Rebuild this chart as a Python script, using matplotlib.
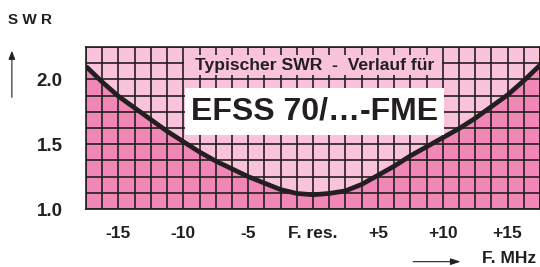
import numpy as np
import matplotlib
matplotlib.use("Agg")
import matplotlib.pyplot as plt
from matplotlib.patches import Rectangle, FancyArrowPatch

# readings from the chart: detuning in MHz vs SWR
freq = [-17.5, -16.25, -15, -13.75, -12.5, -11.25, -10, -8.75, -7.5, -6.25, -5,
        -3.75, -2.5, -1.25, 0, 1.25, 2.5, 3.75, 5, 6.25, 7.5, 8.75, 10,
        11.25, 12.5, 13.75, 15, 16.25, 17.5]
swr = [2.10, 1.98, 1.87, 1.78, 1.69, 1.60, 1.52, 1.44, 1.37, 1.31, 1.25,
       1.20, 1.15, 1.12, 1.11, 1.12, 1.14, 1.19, 1.26, 1.33, 1.41, 1.48, 1.55,
       1.62, 1.70, 1.79, 1.88, 1.99, 2.11]

x_ticks = [-15, -10, -5, 0, 5, 10, 15]
x_labels = ['-15', '-10', '-5', 'F. res.', '+5', '+10', '+15']
y_ticks = [1.0, 1.5, 2.0]
y_labels = ['1.0', '1.5', '2.0']

title_small = 'Typischer SWR  -  Verlauf für'
title_big = 'EFSS 70/…-FME'

dark = '#231f20'
pink_dark = '#f087b7'
pink_light = '#f9c4db'

plt.rcParams['font.family'] = ['Liberation Sans', 'DejaVu Sans']
plt.rcParams['font.weight'] = 'bold'

fig = plt.figure(figsize=(5.4, 2.67), dpi=100)
ax = fig.add_axes([0.1593, 0.2172, 0.8407, 0.6067])

xmin, xmax, ymin, ymax = -17.5, 17.5, 1.0, 2.25
ax.set_xlim(xmin, xmax)
ax.set_ylim(ymin, ymax)

# light pink above, dark pink below the curve
ax.fill_between(freq, swr, ymax, color=pink_light, lw=0, zorder=1)
ax.fill_between(freq, ymin, swr, color=pink_dark, lw=0, zorder=1)

# squared grid
for gx in np.arange(xmin, xmax + 0.01, 1.25):
    ax.axvline(gx, color=dark, lw=1.2, zorder=2)
for gy in np.arange(ymin, ymax + 0.01, 0.125):
    ax.axhline(gy, color=dark, lw=1.2, zorder=2)

ax.plot(freq, swr, color=dark, lw=3.4, solid_capstyle='butt', zorder=3)

# caption boxes
ax.add_patch(Rectangle((-9.95, 2.034), 19.9, 0.154, facecolor=pink_light, lw=0, zorder=4))
ax.add_patch(Rectangle((-9.85, 1.571), 19.95, 0.363, facecolor='white', lw=0, zorder=4))
ax.text(0.1, 2.108, title_small, ha='center', va='center', fontsize=12.6,
        color=dark, zorder=5)
ax.text(0.15, 1.752, title_big, ha='center', va='center', fontsize=23,
        color=dark, zorder=5)

ax.set_xticks(x_ticks, x_labels)
ax.set_yticks(y_ticks, y_labels)
ax.tick_params(length=0, colors=dark)
ax.tick_params(axis='x', pad=12, labelsize=12.5)
ax.tick_params(axis='y', pad=17, labelsize=13.5)
for s in ax.spines.values():
    s.set_color(dark)
    s.set_linewidth(1.2)
    s.set_zorder(6)

# axis captions and arrows
fig.text(0.015, 0.925, 'S W R', fontsize=11, color=dark, ha='left', va='center')
fig.text(0.893, 0.03, 'F. MHz', fontsize=12.5, color=dark, ha='left', va='center')
fig.add_artist(FancyArrowPatch(
    (0.022, 0.625), (0.022, 0.82), transform=fig.transFigure,
    arrowstyle='-|>,head_length=5,head_width=2', color=dark, lw=0.8))
fig.add_artist(FancyArrowPatch(
    (0.76, 0.02), (0.858, 0.02), transform=fig.transFigure,
    arrowstyle='-|>,head_length=6,head_width=2', color=dark, lw=0.8))

fig.savefig('out.png', dpi=100)
